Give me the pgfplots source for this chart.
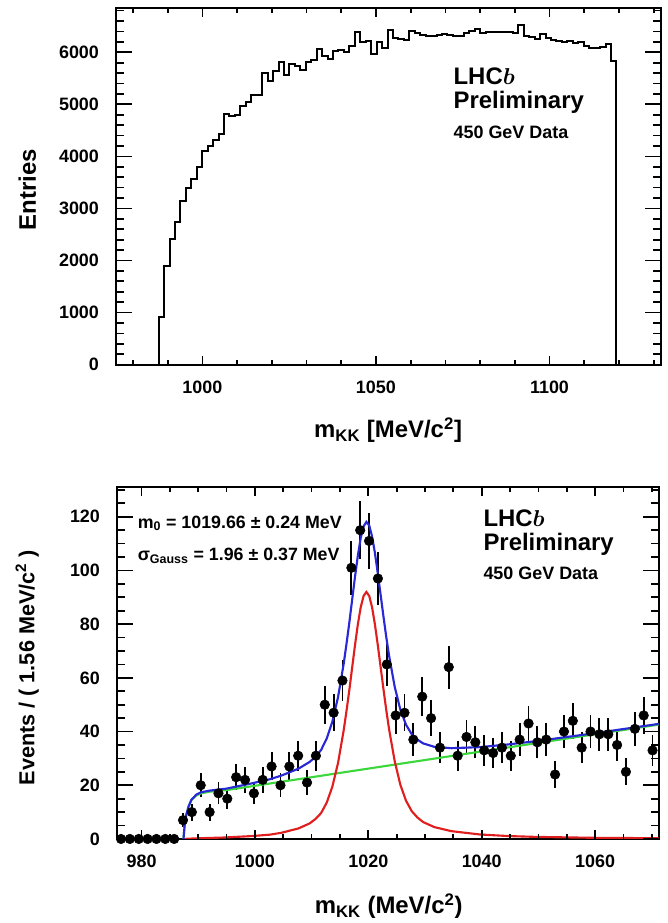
\documentclass[border=0pt]{standalone}
\usepackage{fontspec}
\setmainfont{Liberation Sans}
\usepackage{pgfplots}
\pgfplotsset{compat=1.18}

\newcommand\fs[1]{\fontsize{#1}{#1}\selectfont\bfseries}
\definecolor{rfblue}{RGB}{40,40,215}
\definecolor{rfred}{RGB}{225,30,30}
\definecolor{rfgreen}{RGB}{60,215,60}

\pgfplotsset{
  rootstyle/.style={
    scale only axis, anchor=south west,
    axis line style={line width=1.5pt},
    major tick length=0pt, minor tick length=0pt,
    /pgf/number format/assume math mode=true,
    /pgf/number format/1000 sep={},
    scaled ticks=false,
    ticklabel style={font=\fs{13.5pt}},
    yticklabel style={xshift=-9pt},
    xticklabel style={yshift=-8.5pt},
  },
}
\tikzset{tk/.style={line width=1.3pt, black}}
% ROOT-style inward ticks on all four sides: x ticks short, y ticks long
% #1 length, #3/#4 the two opposite axis limits, #5 tick positions
\newcommand\xticks[5]{\pgfplotsinvokeforeach{#5}{%
  \draw[tk] (axis cs:##1,#3) -- ([yshift=#1]axis cs:##1,#3);
  \draw[tk] (axis cs:##1,#4) -- ([yshift=-#1]axis cs:##1,#4);}}
\newcommand\yticks[5]{\pgfplotsinvokeforeach{#5}{%
  \draw[tk] (axis cs:#3,##1) -- ([xshift=#1]axis cs:#3,##1);
  \draw[tk] (axis cs:#4,##1) -- ([xshift=-#1]axis cs:#4,##1);}}

\begin{document}
\begin{tikzpicture}
\path (0pt,0pt) rectangle (502.5pt,692.25pt);

% ---------- top: m_KK histogram ----------
\begin{axis}[rootstyle,
  at={(87pt,417.75pt)}, width=410.25pt, height=268.5pt,
  xmin=975, xmax=1132, ymin=0, ymax=6850,
  xtick={1000,1050,1100},
  ytick={0,1000,2000,3000,4000,5000,6000},
  xlabel={m\textsubscript{KK} [MeV/c\textsuperscript{2}]},
  ylabel={Entries},
  xlabel style={font=\fs{18pt}, at={(axis description cs:0.5,-0.135)}, anchor=north},
  ylabel style={font=\fs{18pt}, at={(axis description cs:-0.162,0.49)}, anchor=center},
]
\addplot[const plot mark left, line width=1.5pt, black] coordinates {
(975,0) (987.40,915) (988.97,1889) (990.54,2420) (992.11,2740) (993.68,3150)
(995.25,3393) (996.82,3566) (998.39,3790) (999.96,4097) (1001.53,4193)
(1003.10,4321) (1004.67,4430) (1006.24,4814) (1007.81,4770) (1009.38,4800)
(1010.95,4974) (1012.52,5038) (1014.09,5173) (1015.66,5173) (1017.23,5602)
(1018.80,5442) (1020.37,5634) (1021.94,5807) (1023.51,5570) (1025.08,5781)
(1026.65,5743) (1028.22,5666) (1029.79,5813) (1031.36,5845) (1032.93,6063)
(1034.50,5935) (1036.07,5877) (1037.64,6018) (1039.21,6050) (1040.78,6005)
(1042.35,6114) (1043.92,6396) (1045.49,6191) (1047.06,6210) (1048.63,5967)
(1050.20,6191) (1051.77,6082) (1053.34,6422) (1054.91,6275) (1056.48,6256)
(1058.05,6243) (1059.62,6403) (1061.19,6371) (1062.76,6340) (1064.33,6320)
(1065.90,6307) (1067.47,6340) (1069.04,6352) (1070.61,6340) (1072.18,6320)
(1073.75,6307) (1075.32,6371) (1076.89,6403) (1078.46,6448) (1080.03,6371)
(1081.60,6397) (1083.17,6397) (1084.74,6397) (1086.31,6397) (1087.88,6397)
(1089.45,6371) (1091.02,6531) (1092.59,6307) (1094.16,6294) (1095.73,6256)
(1097.30,6352) (1098.87,6275) (1100.44,6243) (1102.01,6211) (1103.58,6192)
(1105.15,6211) (1106.72,6179) (1108.29,6192) (1109.86,6115) (1111.43,6083)
(1113.00,6083) (1114.57,6102) (1116.14,6166) (1117.71,5827) (1119.28,0) (1132,0)
};
\xticks{6.5pt}{}{0}{6850}{1000,1050,1100}
\xticks{3.5pt}{}{0}{6850}{980,990,1010,1020,1030,1040,1060,1070,1080,1090,1110,1120,1130}
\yticks{12pt}{}{975}{1132}{0,1000,2000,3000,4000,5000,6000}
\yticks{6pt}{}{975}{1132}{200,400,600,800,1200,1400,1600,1800,2200,2400,2600,2800,3200,3400,3600,3800,4200,4400,4600,4800,5200,5400,5600,5800,6200,6400,6600,6800}
\end{axis}

% ---------- bottom: fit ----------
\begin{axis}[rootstyle,
  at={(87.75pt,60.75pt)}, width=408pt, height=264.75pt,
  xmin=975.6, xmax=1071.2, ymin=0, ymax=131,
  xtick={980,1000,1020,1040,1060},
  ytick={0,20,40,60,80,100,120},
  xlabel={m\textsubscript{KK} (MeV/c\textsuperscript{2})},
  ylabel={Events / ( 1.56 MeV/c\textsuperscript{2} )},
  xlabel style={font=\fs{18pt}, at={(axis description cs:0.502,-0.142)}, anchor=north},
  ylabel style={font=\fs{16.3pt}, at={(axis description cs:-0.165,0.487)}, anchor=center},
]
\addplot[only marks, mark=*, mark size=3.6pt, black,
  error bars/.cd, y dir=both, y explicit, error mark=none,
  error bar style={line width=1.4pt}] coordinates {
(976.38,0) (977.94,0) (979.51,0) (981.07,0) (982.63,0) (984.19,0) (985.76,0)
(987.32,7) +- (0,2.6) (988.88,10) +- (0,3.2) (990.44,20) +- (0,4.5)
(992.01,10) +- (0,3.2) (993.57,17) +- (0,4.1) (995.13,15) +- (0,3.9)
(996.69,23) +- (0,4.8) (998.26,22) +- (0,4.7) (999.82,17) +- (0,4.1)
(1001.38,22) +- (0,4.7) (1002.94,27) +- (0,5.2) (1004.51,20) +- (0,4.5)
(1006.07,27) +- (0,5.2) (1007.63,31) +- (0,5.6) (1009.19,21) +- (0,4.6)
(1010.76,31) +- (0,5.6) (1012.32,50) +- (0,7.1) (1013.88,47) +- (0,6.9)
(1015.44,59) +- (0,7.7) (1017.01,101) +- (0,10.0) (1018.57,115) +- (0,10.7)
(1020.13,111) +- (0,10.5) (1021.69,97) +- (0,9.8) (1023.26,65) +- (0,8.1)
(1024.82,46) +- (0,6.8) (1026.38,47) +- (0,6.9) (1027.94,37) +- (0,6.1)
(1029.51,53) +- (0,7.3) (1031.07,45) +- (0,6.7) (1032.63,34) +- (0,5.8)
(1034.19,64) +- (0,8.0) (1035.76,31) +- (0,5.6) (1037.32,38) +- (0,6.2)
(1038.88,36) +- (0,6.0) (1040.44,33) +- (0,5.7) (1042.01,32) +- (0,5.7)
(1043.57,34) +- (0,5.8) (1045.13,31) +- (0,5.6) (1046.69,37) +- (0,6.1)
(1048.26,43) +- (0,6.6) (1049.82,36) +- (0,6.0) (1051.38,37) +- (0,6.1)
(1052.94,24) +- (0,4.9) (1054.51,40) +- (0,6.3) (1056.07,44) +- (0,6.6)
(1057.63,34) +- (0,5.8) (1059.19,40) +- (0,6.3) (1060.76,39) +- (0,6.2)
(1062.32,39) +- (0,6.2) (1063.88,35) +- (0,5.9) (1065.44,25) +- (0,5.0)
(1067.01,41) +- (0,6.4) (1068.57,46) +- (0,6.8) (1070.13,33) +- (0,5.7)
};
% background
\addplot[rfgreen, line width=1.6pt] coordinates {
(987.4,0) (987.6,5) (987.9,9) (988.3,12) (988.8,14.5) (989.66,16.2) (990.5,17)
(992,17.6) (995,18.2) (1071.2,42.58)
};
% signal
\addplot[rfred, line width=1.6pt] coordinates {
(987.4,0) (989.66,0.23) (994.66,0.54) (999.66,1.1) (1002.66,1.6) (1004.66,2.3)
(1007.66,3.9) (1009.66,5.8) (1010.66,7.4) (1011.66,9.6) (1012.66,13.5)
(1013.66,19.5) (1014.66,28.3) (1015.66,40.5) (1016.16,47.8) (1016.66,55.6)
(1017.16,64) (1017.66,72.3) (1018.16,80) (1018.66,86.3) (1019.16,90.5)
(1019.66,92) (1020.16,90.5) (1020.66,86.3) (1021.16,80) (1021.66,72.4)
(1022.16,64.2) (1022.66,56) (1023.16,48.1) (1023.66,40.9) (1024.66,28.9)
(1025.66,20.1) (1026.66,14.2) (1027.66,10.35) (1028.66,8.0) (1029.66,6.3)
(1031.66,4.4) (1034.66,2.9) (1039.66,1.67) (1044.66,1.08) (1049.66,0.76)
(1059.66,0.43) (1071.2,0.27)
};
% total
\addplot[rfblue, line width=1.6pt] coordinates {
(987.4,0) (987.6,5) (987.9,9) (988.3,12.1) (988.8,14.6) (989.66,16.5)
(990.5,17.4) (992,18.0) (995,18.75) (999.66,20.8) (1002.66,22.25)
(1004.66,23.6) (1007.66,26.15) (1009.66,28.7) (1010.66,30.6) (1011.66,33.1)
(1012.66,37.35) (1013.66,43.7) (1014.66,52.8) (1015.66,65.3) (1016.16,72.8)
(1016.66,80.7) (1017.16,89.3) (1017.66,97.75) (1018.16,105.6) (1018.66,112.1)
(1019.16,116.4) (1019.66,118.1) (1020.16,116.75) (1020.66,112.7)
(1021.16,106.6) (1021.66,99.1) (1022.16,91.1) (1022.66,83.05) (1023.16,75.3)
(1023.66,68.3) (1024.66,56.6) (1025.66,48.1) (1026.66,42.5) (1027.66,39.0)
(1028.66,37.0) (1029.66,35.6) (1031.66,34.3) (1034.66,33.8) (1039.66,34.2)
(1044.66,35.2) (1049.66,36.45) (1059.66,39.3) (1071.2,42.85)
};
\xticks{6.5pt}{}{0}{131}{980,1000,1020,1040,1060}
\xticks{3.5pt}{}{0}{131}{985,990,995,1005,1010,1015,1025,1030,1035,1045,1050,1055,1065,1070}
\yticks{12pt}{}{975.6}{1071.2}{0,20,40,60,80,100,120}
\yticks{6pt}{}{975.6}{1071.2}{5,10,15,25,30,35,45,50,55,65,70,75,85,90,95,105,110,115,125,130}
\end{axis}

% ---------- annotations ----------
\node[anchor=base west, inner sep=0pt, font=\fs{18pt}] at (341.25pt,628.5pt) {LHC{\boldmath$b$}};
\node[anchor=base west, inner sep=0pt, font=\fs{18pt}] at (341.25pt,610.5pt) {Preliminary};
\node[anchor=base west, inner sep=0pt, font=\fs{13.5pt}] at (341.25pt,588pt) {450 GeV Data};

\node[anchor=base west, inner sep=0pt, font=\fs{18pt}] at (363.75pt,296.25pt) {LHC{\boldmath$b$}};
\node[anchor=base west, inner sep=0pt, font=\fs{18pt}] at (363.75pt,277.5pt) {Preliminary};
\node[anchor=base west, inner sep=0pt, font=\fs{13.5pt}] at (363.75pt,255.75pt) {450 GeV Data};

\node[anchor=base west, inner sep=0pt, font=\fs{13.4pt}] at (103.5pt,294.75pt) {m\textsubscript{0} = 1019.66 ± 0.24 MeV};
\node[anchor=base west, inner sep=0pt, font=\fs{13.4pt}] at (103.5pt,270pt) {σ\textsubscript{Gauss} = 1.96 ± 0.37 MeV};
\end{tikzpicture}
\end{document}
